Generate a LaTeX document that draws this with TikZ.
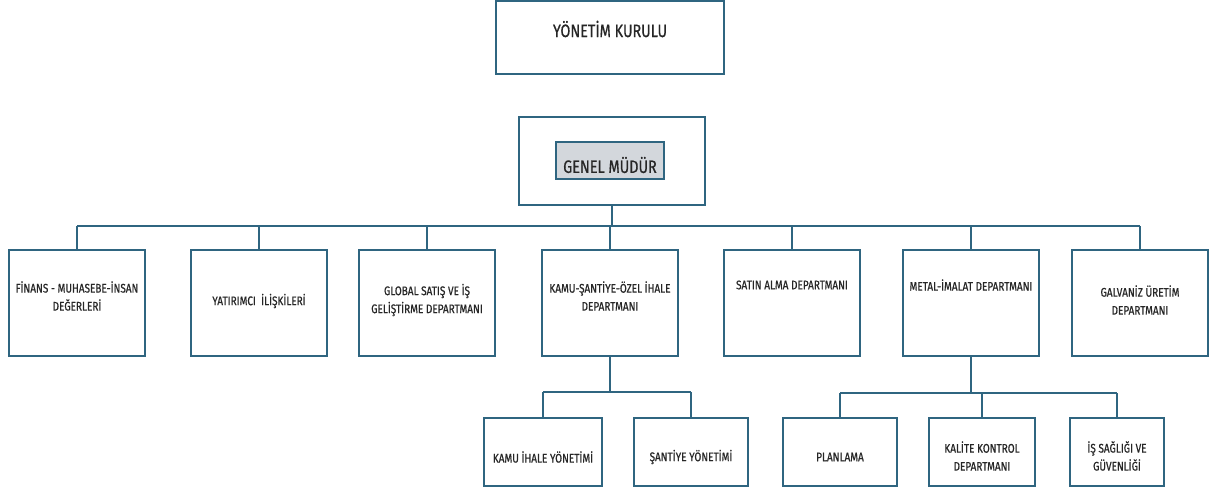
\documentclass[tikz,border=0pt]{standalone}
\usepackage{fontspec}
\setmainfont{Fira Sans}[FakeStretch=0.8, FakeBold=0.6]
\usepackage{xcolor}
\definecolor{lineBlue}{HTML}{2F6580}
\definecolor{headGray}{HTML}{D3D7DC}

\begin{document}
\begin{tikzpicture}[x=1pt, y=-1pt, line width=1.6pt,
    box/.style={draw=lineBlue, fill=white, inner sep=0pt},
    dept/.style={box, minimum width=136pt, minimum height=106pt},
    unit/.style={box, minimum height=68pt},
    txt/.style={font=\fontsize{12.5}{18}\selectfont, align=center, text=black!85},
    bigtxt/.style={font=\fontsize{18}{21}\selectfont, text=black!85}]
  \useasboundingbox (0,0) rectangle (1214,492);

  % top
  \node[box, minimum width=228pt, minimum height=73pt] (kurul) at (610,37.5) {};
  \node[bigtxt] (kurulText) at (610,29) {YÖNETİM KURULU};

  \node[box, minimum width=186pt, minimum height=88pt] (genel) at (612,161) {};
  \node[box, fill=headGray, minimum width=108pt, minimum height=37pt] (mudur) at (610,160.5) {};
  \node[bigtxt] (mudurText) at (610,165) {GENEL MÜDÜR};

  % departments
  \coordinate (busTop) at (0,226);
  \node[dept] (finans)    at (77,303)   {};
  \node[dept] (yatirimci) at (259,303)  {};
  \node[dept] (global)    at (427,303)  {};
  \node[dept] (kamu)      at (610,303)  {};
  \node[dept] (satin)     at (792,303)  {};
  \node[dept] (metal)     at (971,303)  {};
  \node[dept] (galvaniz)  at (1140,303) {};

  \node[txt] at (77,296)   {FİNANS - MUHASEBE-İNSAN\\DEĞERLERİ};
  \node[txt] at (259,301)  {YATIRIMCI \ İLİŞKİLERİ};
  \node[txt] at (427,300)  {GLOBAL SATIŞ VE İŞ\\GELİŞTİRME DEPARTMANI};
  \node[txt] at (610,296)  {KAMU-ŞANTİYE-ÖZEL İHALE\\DEPARTMANI};
  \node[txt] at (792,285)  {SATIN ALMA DEPARTMANI};
  \node[txt] at (971,285)  {METAL-İMALAT DEPARTMANI};
  \node[txt] at (1140,300) {GALVANİZ ÜRETİM\\DEPARTMANI};

  \draw[lineBlue] (genel.south) -- (genel.south |- busTop);
  \draw[lineBlue] (finans.north |- busTop) -- (galvaniz.north |- busTop);
  \foreach \d in {finans,yatirimci,global,kamu,satin,metal,galvaniz}
    \draw[lineBlue] (\d.north) -- (\d.north |- busTop);

  % sub units
  \coordinate (busKamu) at (0,392);
  \coordinate (busMetal) at (0,393);
  \node[unit, minimum width=118pt] (kamuIhale) at (543,452)  {};
  \node[unit, minimum width=114pt] (santiye)   at (691,452)  {};
  \node[unit, minimum width=114pt] (planlama)  at (840,452)  {};
  \node[unit, minimum width=106pt] (kalite)    at (982,452)  {};
  \node[unit, minimum width=94pt]  (isg)       at (1117,452) {};

  \node[txt] at (543,457)  {KAMU İHALE YÖNETİMİ};
  \node[txt] at (691,457)  {ŞANTİYE YÖNETİMİ};
  \node[txt] at (840,457)  {PLANLAMA};
  \node[txt] at (982,456)  {KALİTE KONTROL\\DEPARTMANI};
  \node[txt] at (1117,456) {İŞ SAĞLIĞI VE\\GÜVENLİĞİ};

  \draw[lineBlue] (kamu.south) -- (kamu.south |- busKamu);
  \draw[lineBlue] (kamuIhale.north |- busKamu) -- (santiye.north |- busKamu);
  \foreach \d in {kamuIhale,santiye}
    \draw[lineBlue] (\d.north) -- (\d.north |- busKamu);

  \draw[lineBlue] (metal.south) -- (metal.south |- busMetal);
  \draw[lineBlue] (planlama.north |- busMetal) -- (isg.north |- busMetal);
  \foreach \d in {planlama,kalite,isg}
    \draw[lineBlue] (\d.north) -- (\d.north |- busMetal);
\end{tikzpicture}
\end{document}
